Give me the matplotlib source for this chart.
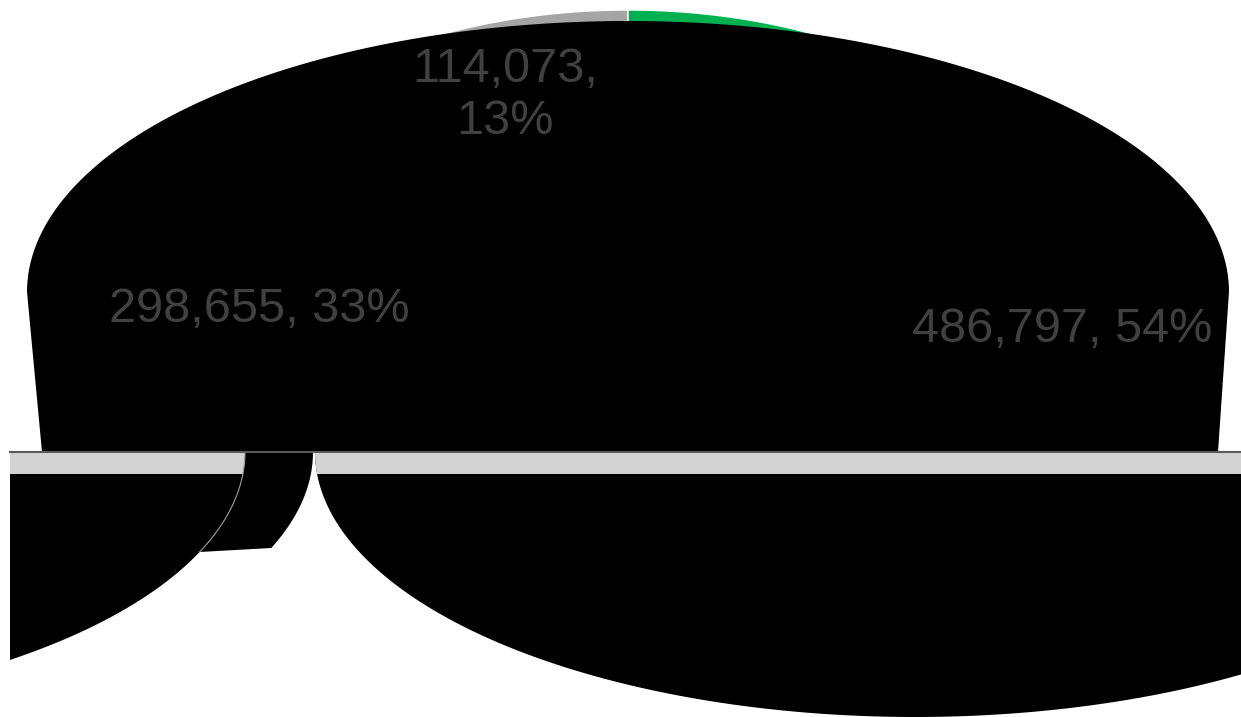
import numpy as np
import matplotlib
matplotlib.use("Agg")
import matplotlib.pyplot as plt
from matplotlib.patches import Rectangle

# данные
labels = ["114,073", "298,655", "486,797"]
values = [114073, 298655, 486797]
colors = ["#A5A5A5", "#ED7D31", "#00B050"]

plt.rcParams['font.family'] = ['Liberation Sans', 'DejaVu Sans']

W, H = 1241, 717
fig = plt.figure(figsize=(W / 100, H / 100), dpi=100)
ax = fig.add_axes([0, 0, 1, 1])
ax.set_xlim(0, W)
ax.set_ylim(H, 0)
ax.axis('off')

# геометрия "3D" пирога
cx = 628
top_cy, top_rx, top_ry = 292, 458, 282      # цветная верхняя грань
body_cy, body_rx, body_ry = 292, 601, 271   # чёрное тело
floor_y = 452
band_h = 22
rx_low = 600


def arc(x0, y0, rx, ry, t1, t2, n=200):
    t = np.radians(np.linspace(t1, t2, n))
    return x0 + rx * np.cos(t), y0 - ry * np.sin(t)


# верхняя грань — сектора от 12 часов против часовой
upper = Rectangle((0, 0), W, floor_y, transform=ax.transData)
fracs = np.array(values) / sum(values)
start = 90.0
for f, c in zip(fracs, colors):
    x, y = arc(cx, top_cy, top_rx, top_ry, start, start + 360 * f)
    p = ax.fill(np.r_[cx, x], np.r_[top_cy, y], color=c, ec='white', lw=1)[0]
    p.set_clip_path(upper)
    start += 360 * f

# тело
x, y = arc(cx, body_cy, body_rx, body_ry, 0, 180)
bx = np.r_[x, 42, 1218]
by = np.r_[y, floor_y, floor_y]
ax.fill(bx, by, color='black', lw=0)

clip = Rectangle((10, 0), W - 10, H, transform=ax.transData)

# нижняя часть, разъехавшаяся на две половины
halves = [(-355, 262), (915, 265)]
for hx, hry in halves:
    x, y = arc(hx, floor_y, rx_low, hry, 180, 360)
    p = ax.fill(x, y, color='black', lw=0)[0]
    p.set_clip_path(clip)
    # светлая полоса по верху
    yb = np.linspace(floor_y, floor_y + band_h, 20)
    half_w = rx_low * np.sqrt(1 - ((yb - floor_y) / hry) ** 2)
    xa = np.clip(hx - half_w, 10, W)
    xb = np.clip(hx + half_w, 10, W)
    ax.fill(np.r_[xa, xb[::-1]], np.r_[yb, yb[::-1]], color='#D3D3D3', lw=0)

# кусочек стенки между половинами
yy = np.linspace(floor_y, 552, 60)
xl = -355 + rx_low * np.sqrt(1 - ((yy - floor_y) / 262) ** 2)
yr = np.linspace(548, floor_y, 60)
xr = -355 + 68 + rx_low * np.sqrt(1 - ((yr - floor_y) / 262) ** 2)
ax.fill(np.r_[xl, xr], np.r_[yy, yr], color='black', lw=0)
ax.plot(xl, yy, color='#9A9A9A', lw=0.8)

ax.plot([10, W], [floor_y, floor_y], color='#595959', lw=1.5)

# подписи
txt = dict(color='#404040', fontsize=35, ha='center', va='center')
ax.text(505, 95, labels[0] + ",\n" + f"{fracs[0]:.0%}", linespacing=1.2, **txt)
ax.text(259, 310, labels[1] + ", " + f"{fracs[1]:.0%}", **txt)
ax.text(1062, 330, labels[2] + ", " + f"{fracs[2]:.0%}", **txt)

fig.savefig("out.png", dpi=100)
